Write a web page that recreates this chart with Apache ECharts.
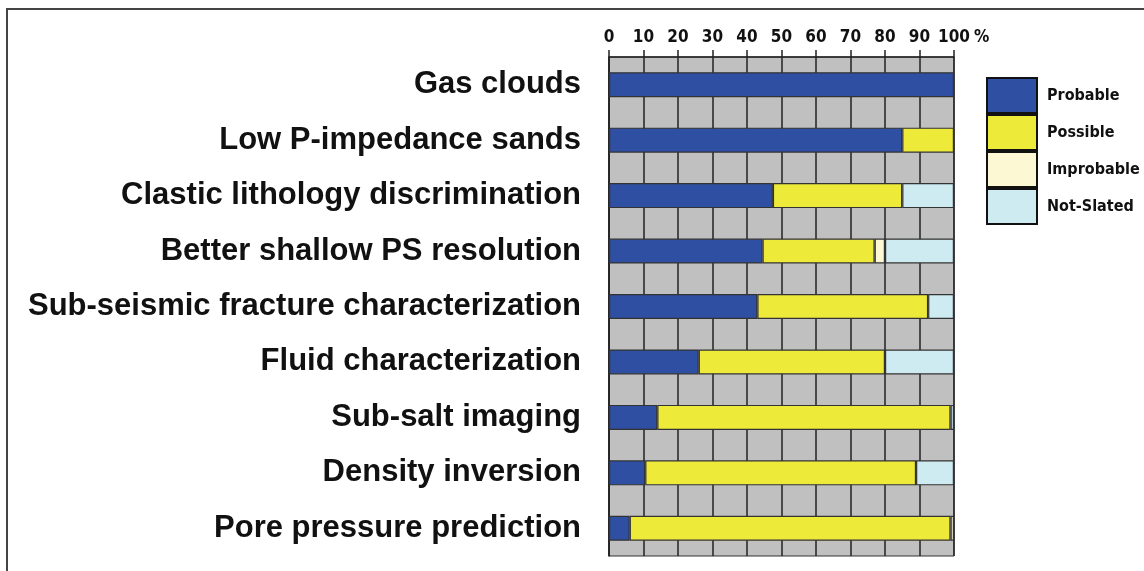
<!DOCTYPE html>
<html>
<head>
<meta charset="utf-8">
<script src="https://cdn.jsdelivr.net/npm/echarts@6/dist/echarts.min.js"></script>
<style>html,body{margin:0;padding:0;background:#fff}#c{width:1144px;height:571px}</style>
</head>
<body>
<div id="c"></div>
<script>
const categories = ['Gas clouds','Low P-impedance sands','Clastic lithology discrimination','Better shallow PS resolution','Sub-seismic fracture characterization','Fluid characterization','Sub-salt imaging','Density inversion','Pore pressure prediction'];
const seriesNames = ['Probable','Possible','Improbable','Not-Slated'];
const probable   = [100, 85, 47.5, 44.5, 43, 26, 14, 10.5, 6];
const possible   = [0, 15, 37.5, 32.5, 49.5, 54, 85, 78.5, 93];
const improbable = [0, 0, 0, 3, 0, 0, 0, 0, 1];
const notSlated  = [0, 0, 15, 20, 7.5, 20, 1, 11, 0];
const xTicks = [0,10,20,30,40,50,60,70,80,90,100];

const colors = ['#2f4fa2','#eeea3a','#fcf8d3','#cdebf1'];
const seriesData = [probable, possible, improbable, notSlated];
const condensed = '"Liberation Sans Narrow","DejaVu Sans Condensed",sans-serif';

const chart = echarts.init(document.getElementById('c'), null, {renderer:'canvas'});
chart.setOption({
  animation:false,
  backgroundColor:'#fff',
  grid:{left:609, right:190, top:57, bottom:15, show:true, backgroundColor:'#c0c0c0', borderColor:'#333', borderWidth:1},
  xAxis:{
    type:'value', position:'top', min:0, max:100, interval:10,
    axisLine:{show:true, lineStyle:{color:'#222', width:1.5}},
    axisTick:{show:true, length:7, lineStyle:{color:'#222', width:1.5}},
    axisLabel:{margin:11, color:'#111', fontFamily:condensed, fontWeight:'bold', fontSize:17,
      formatter:v=> xTicks.indexOf(v) >= 0 ? String(v) : ''},
    splitLine:{show:true, lineStyle:{color:'#222', width:1.5}}
  },
  yAxis:{
    type:'category', data:categories, inverse:true,
    axisLine:{show:true, lineStyle:{color:'#222', width:1.5}},
    axisTick:{show:false},
    axisLabel:{margin:28, color:'#111', fontFamily:'"Liberation Sans",Arial,sans-serif', fontWeight:'bold', fontSize:31}
  },
  legend:{
    orient:'vertical', left:986, top:77, padding:0, itemWidth:50, itemHeight:35, itemGap:0, icon:'rect',
    data:seriesNames,
    textStyle:{color:'#111', fontFamily:condensed, fontWeight:'bold', fontSize:16, padding:[0,0,0,5]},
    itemStyle:{borderColor:'#111', borderWidth:2}
  },
  series: seriesNames.map((n,i)=>({
    name:n, type:'bar', stack:'s', barWidth:25,
    data: seriesData[i].map(v=> v>0 ? v : null),
    itemStyle:{color:colors[i], borderColor:'#333', borderWidth:1.2}
  })),
  graphic:[
    {type:'rect', shape:{x:7, y:9, width:1200, height:700}, style:{fill:'none', stroke:'#444', lineWidth:2}, silent:true, z:-1},
    {type:'text', x:974, y:29, style:{text:'%', fill:'#111', font:'bold 17px ' + condensed}}
  ]
});
</script>
</body>
</html>
